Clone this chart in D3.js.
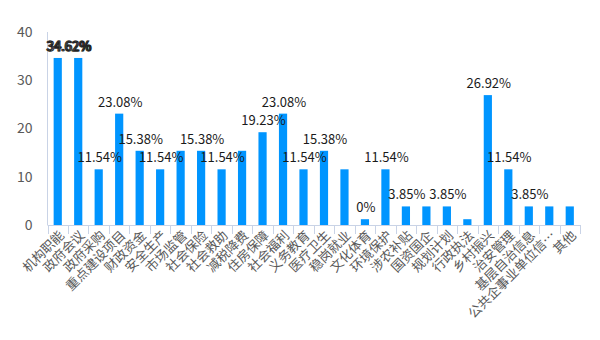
<!DOCTYPE html>
<html><head><meta charset="utf-8">
<script src="https://cdn.jsdelivr.net/npm/d3@7/dist/d3.min.js"></script>
<style>body{margin:0;background:#fff}svg{display:block}</style>
</head><body>
<script>
const categories = ["机构职能","政府会议","政府采购","重点建设项目","财政资金","安全生产","市场监管","社会保险","社会救助","减税降费","住房保障","社会福利","义务教育","医疗卫生","稳岗就业","文化体育","环境保护","涉农补贴","国资国企","规划计划","行政执法","乡村振兴","治安管理","基层自治信息","公共企事业单位信…","其他"];
const values = [34.62,34.62,11.54,23.08,15.38,11.54,15.38,15.38,11.54,15.38,19.23,23.08,11.54,15.38,11.54,1.2,11.54,3.85,3.85,3.85,1.2,26.92,11.54,3.85,3.85,3.85];
const dataLabels = ["34.62%","34.62%","11.54%","23.08%","15.38%","11.54%","","15.38%","11.54%","","19.23%","23.08%","11.54%","15.38%","","0%","11.54%","3.85%","","3.85%","","26.92%","11.54%","3.85%","",""];
const yTicks = [0,10,20,30,40];

const W=600,H=340;
const svg=d3.select("body").append("svg").attr("width",W).attr("height",H);
const font='"Noto Sans CJK SC","Noto Sans",sans-serif';
const x=d3.scaleBand().domain(categories).range([47.5,580]).paddingInner(0.6).paddingOuter(0.3);
const y=d3.scaleLinear().domain([0,40]).range([225,32]);
const axisColor="#c9d3e6";

// y axis
const ya=svg.append("g").attr("transform","translate(47.5,0)")
  .call(d3.axisLeft(y).tickValues(yTicks).tickSize(0).tickPadding(15));
ya.select(".domain").attr("stroke",axisColor).attr("d","M0,32V225");
ya.selectAll("text").attr("fill","#595959").style("font-family",font).style("font-size","14px");

// bars
svg.append("g").selectAll("rect").data(categories).join("rect")
  .attr("x",d=>x(d)).attr("width",x.bandwidth())
  .attr("y",(d,i)=>y(values[i])).attr("height",(d,i)=>y(0)-y(values[i]))
  .attr("fill","#0095ff");

// x axis
const step=x.step();
const xa=svg.append("g");
xa.append("line").attr("x1",47.5).attr("x2",580).attr("y1",225.5).attr("y2",225.5).attr("stroke",axisColor);
xa.selectAll("line.t").data(d3.range(categories.length+1)).join("line").attr("class","t")
  .attr("x1",i=>Math.round(47.5+i*step)+0.5).attr("x2",i=>Math.round(47.5+i*step)+0.5)
  .attr("y1",225).attr("y2",234).attr("stroke",axisColor);
xa.selectAll("text").data(categories).join("text")
  .attr("transform",d=>`translate(${x(d)+x.bandwidth()/2+4},233) rotate(-45)`)
  .attr("text-anchor","end").attr("dy","0.35em")
  .attr("fill","#595959").style("font-family",font).style("font-size","13px")
  .text(d=>d);

// data labels
const lab=svg.append("g").style("font-family",font).style("font-size","13px");
categories.forEach((c,i)=>{
  const t=dataLabels[i]; if(!t) return;
  let cx=x(c)+x.bandwidth()/2+1;
  let merged=false;
  if(i+1<categories.length && dataLabels[i+1]===t && values[i+1]===values[i] && i===0){ cx=(cx+x(categories[i+1])+x.bandwidth()/2+1)/2-0.5; merged=true;}
  if(i===1 && dataLabels[0]===t && values[0]===values[1]){ cx=(x(categories[0])+x(c)+x.bandwidth()+2)/2+0.5; merged=true;}
  const el=lab.append("text").attr("x",cx).attr("y",y(values[i])-7).attr("text-anchor","middle").text(t);
  if(merged) el.attr("fill","#fff").attr("stroke","#222").attr("stroke-width",0.9);
  else el.attr("fill","#1a1a1a");
});
</script>
</body></html>
